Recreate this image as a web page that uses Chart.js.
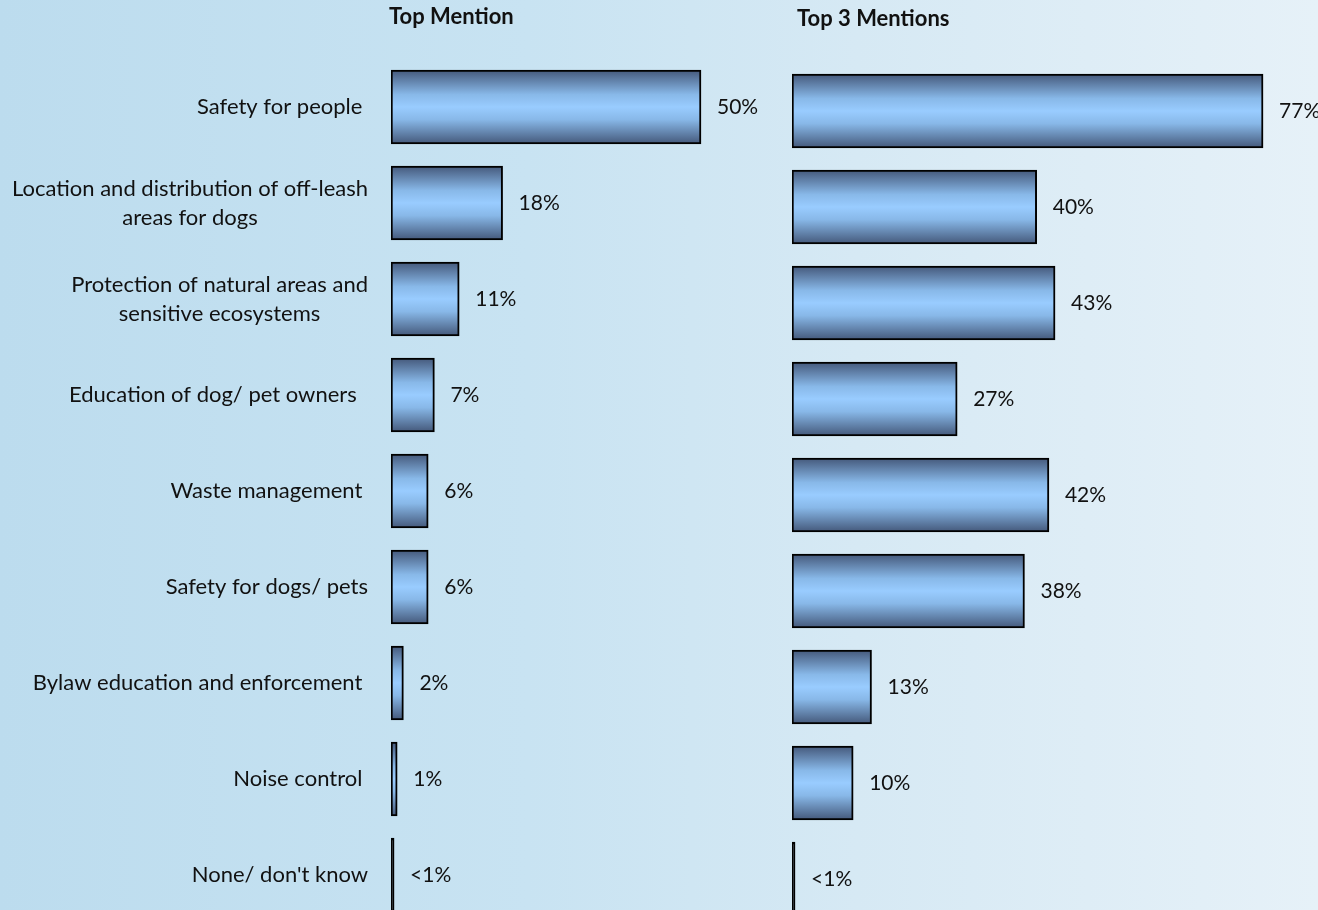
<!DOCTYPE html>
<html>
<head>
<meta charset="utf-8">
<script src="https://cdn.jsdelivr.net/npm/chart.js@4/dist/chart.umd.min.js"></script>
<style>
  html, body { margin: 0; padding: 0; width: 1318px; height: 910px; overflow: hidden; }
  body { background: linear-gradient(to right, #bcdcee 0%, #c8e3f2 40%, #d6e9f4 65%, #e6f1f8 100%); position: relative; }
  canvas { position: absolute; left: 0; top: 0; }
</style>
</head>
<body>
<canvas id="leftChart" width="1318" height="940"></canvas>
<canvas id="rightChart" width="1318" height="940"></canvas>
<script>
// categories (multi-line labels as arrays)
const categories = [
  ['Safety for people '],
  ['Location and distribution of off-leash', 'areas for dogs'],
  ['Protection of natural areas and', 'sensitive ecosystems'],
  ['Education of dog/ pet owners  '],
  ['Waste management '],
  ['Safety for dogs/ pets'],
  ['Bylaw education and enforcement '],
  ['Noise control '],
  ["None/ don't know"]
];
const topMention = [50, 18, 11, 7, 6, 6, 2, 1, 0.5];
const top3Mentions = [77, 40, 43, 27, 42, 38, 13, 10, 0.5];

const FONT = 'Lato, "Open Sans", sans-serif';
const BAR_H = 74;

function pctLabel(v) {
  return v < 1 ? '<1%' : v + '%';
}

function barFill(ctx) {
  const chart = ctx.chart;
  const y = chart.scales.y;
  if (!y || ctx.dataIndex === undefined) return '#99ccff';
  // tiny (<1%) bars show as a plain black stroke
  if (ctx.raw < 1) return '#000';
  const c = y.getPixelForValue(ctx.dataIndex);
  if (!isFinite(c)) return '#99ccff';
  const g = chart.ctx.createLinearGradient(0, c - BAR_H / 2, 0, c + BAR_H / 2);
  g.addColorStop(0, '#44587a');
  g.addColorStop(0.33, '#88b8e8');
  g.addColorStop(0.5, '#99ccff');
  g.addColorStop(0.67, '#88b8e8');
  g.addColorStop(1, '#44587a');
  return g;
}

// draws value labels, the title and (optionally) the category labels
function labelPlugin(title, titleY, showCats) {
  return {
    id: 'labels',
    afterDatasetsDraw(chart) {
      const c = chart.ctx;
      const meta = chart.getDatasetMeta(0);
      const vals = chart.data.datasets[0].data;
      c.save();
      c.fillStyle = '#111';
      c.font = '21px ' + FONT;
      c.textBaseline = 'middle';
      c.textAlign = 'left';
      meta.data.forEach((bar, i) => {
        c.fillText(pctLabel(vals[i]), bar.x + 16, bar.y);
      });
      if (showCats) {
        c.font = '22px ' + FONT;
        const ys = chart.scales.y;
        categories.forEach((lines, i) => {
          const cy = ys.getPixelForValue(i);
          const widths = lines.map(l => c.measureText(l).width);
          const maxW = Math.max(...widths);
          const mid = 368 - maxW / 2;
          c.textAlign = 'center';
          lines.forEach((l, k) => {
            const ly = cy + (k - (lines.length - 1) / 2) * 29;
            c.fillText(l, mid, ly);
          });
        });
      }
      c.font = 'bold 22px ' + FONT;
      c.textAlign = 'left';
      c.fillText(title, chart.chartArea.left - 2 + (showCats ? 0 : 7), titleY);
      c.restore();
    }
  };
}

function makeChart(id, values, xMax, pad, title, titleY, showCats) {
  const ch = new Chart(document.getElementById(id), {
    type: 'bar',
    data: {
      labels: categories,
      datasets: [{
        data: values,
        backgroundColor: barFill,
        borderColor: '#000',
        borderWidth: 2,
        borderSkipped: false,
        barThickness: BAR_H
      }]
    },
    options: {
      indexAxis: 'y',
      responsive: false,
      animation: false,
      events: [],
      layout: { padding: pad },
      plugins: { legend: { display: false }, tooltip: { enabled: false } },
      scales: {
        x: { display: false, min: 0, max: xMax },
        y: { display: false }
      }
    },
    plugins: [labelPlugin(title, titleY, showCats)]
  });
  ch.update();
  return ch;
}

makeChart('leftChart', topMention, 60, { left: 391, right: 555, top: 59, bottom: 17 }, 'Top Mention', 17, true);
makeChart('rightChart', top3Mentions, 85, { left: 792, right: 6, top: 63, bottom: 13 }, 'Top 3 Mentions', 19, false);
</script>
</body>
</html>
